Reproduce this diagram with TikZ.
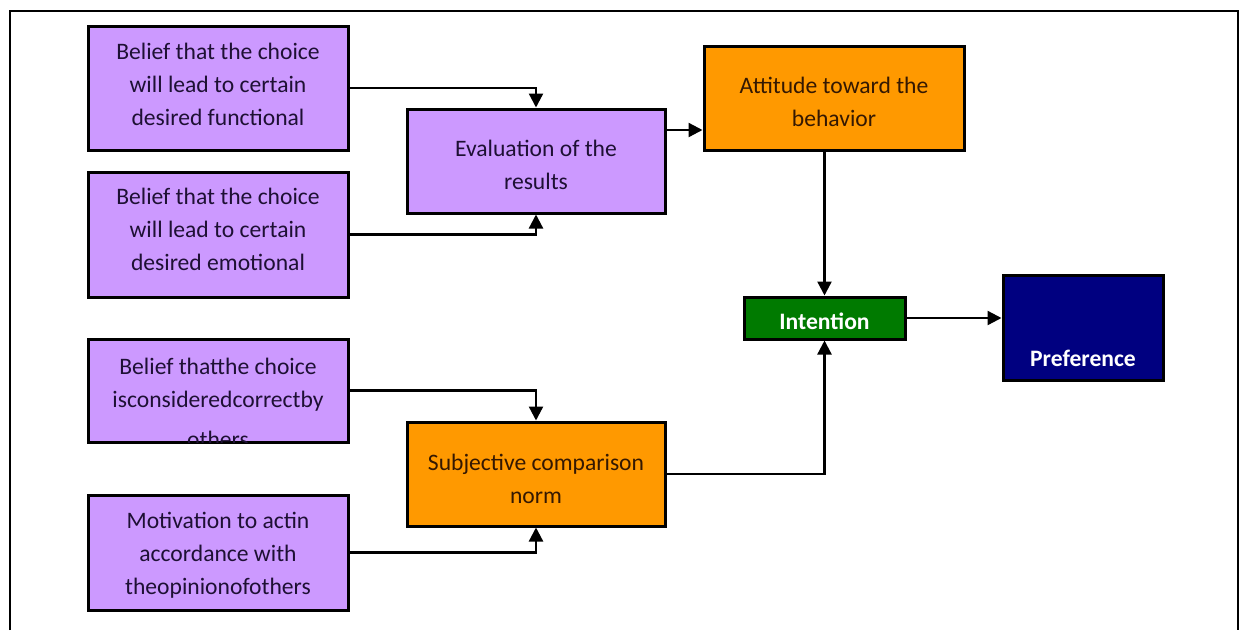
\documentclass[tikz,border=0pt]{standalone}
\usepackage{fontspec}
\setmainfont{Carlito}
\usetikzlibrary{calc,arrows.meta}

\definecolor{lavender}{RGB}{204,153,255}
\definecolor{amber}{RGB}{255,153,0}
\definecolor{leaf}{RGB}{0,122,0}
\definecolor{deepnavy}{RGB}{0,0,128}
\definecolor{inkpurple}{RGB}{30,16,52}
\definecolor{inkbrown}{RGB}{52,24,2}

\tikzset{
  box/.style={draw=black, line width=3pt, inner sep=0pt},
  belief/.style={box, fill=lavender, minimum width=260pt},
  outcome/.style={box, fill=amber, minimum width=258pt, minimum height=104pt},
  label text/.style={align=center, inner sep=0pt, font=\fontsize{23.6}{33}\selectfont},
  purpletext/.style={label text, text=inkpurple},
  browntext/.style={label text, text=inkbrown},
  whitetext/.style={label text, text=white, font=\fontsize{23.6}{33}\selectfont\bfseries},
  arr/.style={line width=2.3pt, -{Triangle[length=14pt,width=14pt]}}
}

\begin{document}
\begin{tikzpicture}[x=1pt, y=-1pt]
\useasboundingbox (0,0) rectangle (1248,630);
\draw[line width=2pt] (10,630) -- (10,11) -- (1238,11) -- (1238,630);

% left column
\node[belief, minimum height=124pt] (fn) at (218,88) {};
\node[purpletext] (fntxt) at ([yshift=4pt]fn.center) {Belief that the choice\\will lead to certain\\desired functional};
\node[belief, minimum height=125pt] (em) at (218,234.5) {};
\node[purpletext] (emtxt) at ([yshift=5pt]em.center) {Belief that the choice\\will lead to certain\\desired emotional};
\node[belief, minimum height=103pt] (co) at (218,390.5) {};
\begin{scope}
  \clip ([yshift=1.5pt]co.south west) rectangle (co.north east);
  \node[purpletext, anchor=north] (cotxt) at ([yshift=-20pt]co.north) {Belief thatthe choice\\isconsideredcorrectby\\[7pt]others};
\end{scope}
\node[belief, minimum height=115pt] (mo) at (218,552.5) {};
\node[purpletext] (motxt) at ([yshift=-3pt]mo.center) {Motivation to actin\\accordance with\\theopinionofothers};

% middle column
\node[belief, minimum width=258pt, minimum height=104pt] (ev) at (536,161) {};
\node[purpletext] (evtxt) at ([yshift=-4pt]ev.center) {Evaluation of the\\results};
\node[outcome] (sc) at (536,474) {};
\node[browntext] (sctxt) at ([yshift=-5pt]sc.center) {Subjective comparison\\norm};

% right part
\node[outcome, minimum width=260pt] (at) at (834,98) {};
\node[browntext] (attxt) at ([yshift=-4pt]at.center) {Attitude toward the\\behavior};
\node[box, fill=leaf, minimum width=161pt, minimum height=42pt] (in) at (824.5,318) {};
\node[whitetext] (intxt) at ([yshift=-3pt]in.center) {Intention};
\node[box, fill=deepnavy, minimum width=160pt, minimum height=105pt] (pr) at (1083,327.5) {};
\node[whitetext, anchor=base] (prtxt) at ([yshift=15pt]pr.south) {Preference};

% connectors
\draw[arr] (fn.east) -| (ev.north);
\draw[arr] (em.east) -| (ev.south);
\draw[arr] (co.east) -| (sc.north);
\draw[arr] (mo.east) -| (sc.south);
\draw[arr] ([yshift=31pt]ev.east) -- ([yshift=31pt]ev.east -| at.west);
\draw[arr] (at.south -| in.north) -- (in.north);
\draw[arr] (sc.east) -| (in.south);
\draw[arr] (in.east) -- (in.east -| pr.west);
\end{tikzpicture}
\end{document}
